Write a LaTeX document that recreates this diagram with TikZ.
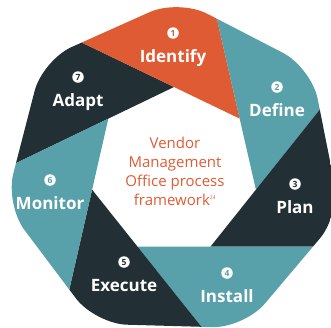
\documentclass[tikz,border=0pt]{standalone}
\usepackage{fontspec}
\setmainfont{Open Sans}
\usetikzlibrary{calc,positioning}
\definecolor{vmoorange}{RGB}{223,91,51}
\definecolor{vmoteal}{RGB}{88,161,171}
\definecolor{vmodark}{RGB}{34,47,53}
\begin{document}
\begin{tikzpicture}[x=1pt,y=-1pt,node distance=23pt,
        num node/.style={circle,fill=white,inner sep=0pt,minimum size=11.5pt,font=\fontsize{8.5}{8.5}\selectfont\bfseries},
        step node/.style={white,text height=12pt,text depth=0pt,font=\fontsize{17}{20}\selectfont\bfseries},
        core node/.style={vmoorange,align=center,font=\fontsize{15}{19}\selectfont}]

        \useasboundingbox (0,0) rectangle (331,327);
        \coordinate (c) at (174,171);
        \foreach \k in {0,...,6} {
            \coordinate (i\k) at ($(c)+(270+\k*360/7:84)$);
            \coordinate (o\k) at ($(c)+(271.6+\k*360/7:172)$);
        }

        \begin{scope}
            \clip[rounded corners=32pt] (o0) -- (o1) -- (o2) -- (o3) -- (o4) -- (o5) -- (o6) -- cycle;
            \foreach \k/\col in {0/vmodark,1/vmoorange,2/vmoteal,3/vmodark,4/vmoteal,5/vmodark,6/vmoteal} {
                \pgfmathtruncatemacro{\prv}{mod(\k+6,7)}
                \pgfmathtruncatemacro{\nxt}{mod(\k+1,7)}
                \fill[\col] (i\k) -- ($(i\k)!5!(i\prv)$) -- ($(i\k)!-5!(i\nxt)$) -- cycle;
            }
        \end{scope}

        \node[num node,text=vmoorange] (n1) at (173,33)  {1};
        \node[num node,text=vmoteal]   (n2) at (277,87)  {2};
        \node[num node,text=vmodark]   (n3) at (295,184) {3};
        \node[num node,text=vmoteal]   (n4) at (227,273) {4};
        \node[num node,text=vmodark]   (n5) at (124,262) {5};
        \node[num node,text=vmoteal]   (n6) at (50,180)  {6};
        \node[num node,text=vmodark]   (n7) at (78,77)   {7};

        \node[step node] (s1) [below of=n1] {Identify};
        \node[step node] (s2) [below of=n2] {Define};
        \node[step node] (s3) [below of=n3] {Plan};
        \node[step node] (s4) [below of=n4] {Install};
        \node[step node] (s5) [below of=n5] {Execute};
        \node[step node] (s6) [below of=n6] {Monitor};
        \node[step node] (s7) [below of=n7] {Adapt};

        \node[core node] (core) at (175,171) {Vendor\\Management\\Office process\\framework\textsuperscript{\tiny 24}};
    \end{tikzpicture}
\end{document}
